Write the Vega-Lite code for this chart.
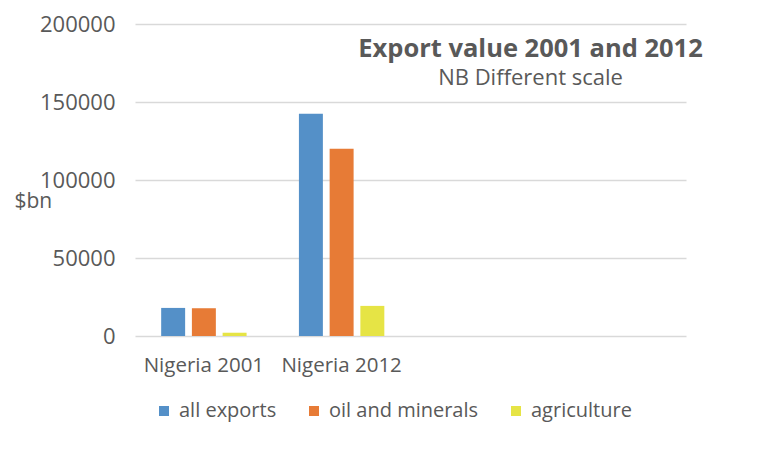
{
  "$schema": "https://vega.github.io/schema/vega-lite/v6.json",
  "width": 551,
  "height": 312,
  "autosize": "none",
  "padding": {"left": 135, "top": 24, "right": 92, "bottom": 114},
  "background": "white",
  "data": {
    "values": [
      {"country": "Nigeria 2001", "series": "all exports", "value": 18000},
      {"country": "Nigeria 2001", "series": "oil and minerals", "value": 17800},
      {"country": "Nigeria 2001", "series": "agriculture", "value": 2100},
      {"country": "Nigeria 2012", "series": "all exports", "value": 142500},
      {"country": "Nigeria 2012", "series": "oil and minerals", "value": 120000},
      {"country": "Nigeria 2012", "series": "agriculture", "value": 19300}
    ]
  },
  "title": {
    "text": "Export value 2001 and 2012",
    "subtitle": "NB Different scale",
    "anchor": "middle",
    "dx": 120,
    "offset": -76,
    "font": "Open Sans",
    "fontSize": 25.5,
    "fontWeight": "bold",
    "color": "#595959",
    "subtitleFont": "Open Sans",
    "subtitleFontSize": 22,
    "subtitleColor": "#595959",
    "subtitlePadding": 6
  },
  "mark": {"type": "bar"},
  "encoding": {
    "x": {
      "field": "country",
      "type": "nominal",
      "scale": {"domain": ["Nigeria 2001", "Nigeria 2012", "_3", "_4"], "paddingInner": 0.38, "paddingOuter": 0.19},
      "axis": {
        "title": null,
        "labelAngle": 0,
        "labelExpr": "indexof(datum.value, '_') == 0 ? '' : datum.value",
        "labelFont": "Open Sans",
        "labelFontSize": 20.5,
        "labelColor": "#595959",
        "labelPadding": 19,
        "ticks": false,
        "domain": false
      }
    },
    "xOffset": {
      "field": "series",
      "type": "nominal",
      "scale": {"domain": ["all exports", "oil and minerals", "agriculture"], "paddingInner": 0.22, "paddingOuter": 0}
    },
    "y": {
      "field": "value",
      "type": "quantitative",
      "scale": {"domain": [0, 200000], "nice": false},
      "axis": {
        "values": [0, 50000, 100000, 150000, 200000],
        "format": "d",
        "title": "$bn",
        "titleAngle": 0,
        "titleX": -121,
        "titleY": 177,
        "titleAlign": "left",
        "titleBaseline": "middle",
        "titleFont": "Open Sans",
        "titleFontSize": 21,
        "titleFontWeight": "normal",
        "titleColor": "#595959",
        "labelFont": "Open Sans",
        "labelFontSize": 22,
        "labelColor": "#595959",
        "labelPadding": 20,
        "ticks": false,
        "domain": false,
        "grid": true,
        "gridColor": "#d9d9d9",
        "gridWidth": 1.5
      }
    },
    "color": {
      "field": "series",
      "type": "nominal",
      "scale": {"domain": ["all exports", "oil and minerals", "agriculture"], "range": ["#5490c8", "#e77b36", "#e6e445"]},
      "legend": {
        "title": null,
        "orient": "none",
        "legendX": 19,
        "legendY": 377,
        "direction": "horizontal",
        "symbolType": "square",
        "symbolSize": 100,
        "symbolStrokeWidth": 0,
        "labelFont": "Open Sans",
        "labelFontSize": 20,
        "labelColor": "#595959",
        "labelOffset": 5,
        "columnPadding": 27
      }
    }
  },
  "config": {"view": {"stroke": null}}
}
